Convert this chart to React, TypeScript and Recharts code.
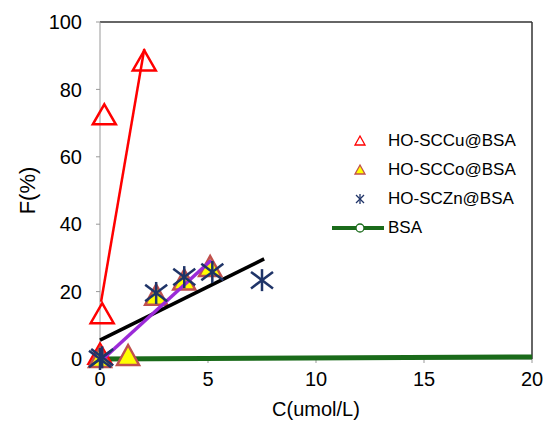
import { ReferenceLine, Scatter, ScatterChart, XAxis, YAxis } from "recharts";

// measured points
const cuX = [0, 0.1, 0.2, 2.05];
const cuY = [1, 13, 72, 88];
const coX = [0, 1.3, 2.6, 3.9, 5.1];
const coY = [0, 0.6, 18.5, 23, 27];
const znX = [0, 0.1, 2.6, 3.9, 5.2, 7.5];
const znY = [0, 0.5, 19.6, 24.3, 25.8, 23.4];
const bsaX = [0, 0.1];
const bsaY = [0, 0.1];

// fitted / trend lines (end points)
const cuFitX = [0.05, 2.05];
const cuFitY = [17, 92];
const coFitX = [0.14, 5.15];
const coFitY = [0, 29.3];
const znFitX = [0, 7.6];
const znFitY = [5.6, 29.7];
const bsaLineX = [0, 20];
const bsaLineY = [0, 0.6];

const xTicks = [0, 5, 10, 15, 20];
const yTicks = [0, 20, 40, 60, 80, 100];
const legendNames = ["HO-SCCu@BSA", "HO-SCCo@BSA", "HO-SCZn@BSA", "BSA"];

const toRows = (xs: number[], ys: number[]) => xs.map((x, i) => ({ x, y: ys[i] }));

const RED = "#ff0000";
const YELLOW = "#ffff00";
const BROWN = "#c0504d";
const NAVY = "#1f3468";
const PURPLE = "#9b2ad8";
const GREEN = "#1a6b1a";

const triPath = (cx: number, cy: number, w: number, h: number) =>
    `M${cx},${cy - h * 0.6} L${cx + w / 2},${cy + h * 0.4} L${cx - w / 2},${cy + h * 0.4} Z`;

const RedTri = (p: any) => (
    <path d={triPath(p.cx, p.cy, 23, 20)} fill="none" stroke={RED} strokeWidth={2.5} />
);
const YellowTri = (p: any) => (
    <path d={triPath(p.cx, p.cy, 22, 20)} fill={YELLOW} stroke={BROWN} strokeWidth={2.5} />
);
const Star = (p: any) => {
    const r = 11;
    return (
        <g stroke={NAVY} strokeWidth={2.5}>
            <line x1={p.cx - r} y1={p.cy - r * 0.75} x2={p.cx + r} y2={p.cy + r * 0.75} />
            <line x1={p.cx - r} y1={p.cy + r * 0.75} x2={p.cx + r} y2={p.cy - r * 0.75} />
            <line x1={p.cx} y1={p.cy - r} x2={p.cx} y2={p.cy + r} />
        </g>
    );
};
const GreenDot = (p: any) => (
    <circle cx={p.cx} cy={p.cy} r={5} fill="none" stroke={GREEN} strokeWidth={1.5} />
);
const Nothing = () => <g />;

function LegendBox() {
    const icons = [
        <path d="M10,3 L15,12 L5,12 Z" fill="none" stroke={RED} strokeWidth={1.3} />,
        <path d="M10,3 L15,12 L5,12 Z" fill={YELLOW} stroke={BROWN} strokeWidth={1.3} />,
        <g stroke={NAVY} strokeWidth={1.3}>
            <line x1={6} y1={4} x2={14} y2={12} />
            <line x1={6} y1={12} x2={14} y2={4} />
            <line x1={10} y1={3} x2={10} y2={13} />
        </g>,
        <g>
            <line x1={-18} y1={8} x2={34} y2={8} stroke={GREEN} strokeWidth={4} />
            <circle cx={10} cy={8} r={4} fill="#fff" stroke={GREEN} strokeWidth={1.3} />
        </g>,
    ];
    return (
        <div
            style={{
                position: "absolute",
                left: 350,
                top: 126,
                width: 190,
                fontFamily: "'Liberation Sans', Arial, sans-serif",
                fontSize: 17,
                color: "#000",
            }}
        >
            {legendNames.map((name, i) => (
                <div key={name} style={{ display: "flex", alignItems: "center", height: 29 }}>
                    <svg width={20} height={16} style={{ overflow: "visible", marginRight: 18 }}>
                        {icons[i]}
                    </svg>
                    <span>{name}</span>
                </div>
            ))}
        </div>
    );
}

export default function App() {
    const tickFont = { fontFamily: "'Liberation Sans', Arial, sans-serif", fontSize: 20, fill: "#000" };
    return (
        <div style={{ position: "absolute", left: 0, top: 0, width: 547, height: 431, background: "#fff" }}>
            <ScatterChart
                width={547}
                height={431}
                margin={{ top: 22, right: 15, left: 40, bottom: 42 }}
                style={{ overflow: "visible" }}
            >
                <XAxis
                    type="number"
                    dataKey="x"
                    domain={[0, 20]}
                    ticks={xTicks}
                    height={30}
                    stroke="#999"
                    tickSize={4}
                    tickMargin={9}
                    tick={tickFont}
                    label={{
                        value: "C(umol/L)",
                        position: "bottom",
                        offset: 13,
                        style: { ...tickFont, textAnchor: "middle" },
                    }}
                />
                <YAxis
                    type="number"
                    dataKey="y"
                    domain={[0, 100]}
                    ticks={yTicks}
                    width={60}
                    stroke="#999"
                    tickSize={4}
                    tickMargin={14}
                    tick={tickFont}
                    label={{
                        value: "F(%)",
                        angle: -90,
                        position: "insideLeft",
                        offset: -13,
                        style: { ...tickFont, fontSize: 22, textAnchor: "middle" },
                    }}
                />
                <ReferenceLine y={100} stroke="#333" strokeWidth={1.5} />
                <ReferenceLine x={20} stroke="#333" strokeWidth={1.5} />
                <Scatter
                    data={toRows(bsaLineX, bsaLineY)}
                    shape={<Nothing />}
                    line={{ stroke: GREEN, strokeWidth: 5 }}
                    isAnimationActive={false}
                />
                <Scatter data={toRows(bsaX, bsaY)} shape={<GreenDot />} isAnimationActive={false} />
                <Scatter data={toRows(cuX, cuY)} shape={<RedTri />} isAnimationActive={false} />
                <Scatter data={toRows(coX, coY)} shape={<YellowTri />} isAnimationActive={false} />
                <Scatter
                    data={toRows(znFitX, znFitY)}
                    shape={<Nothing />}
                    line={{ stroke: "#000", strokeWidth: 3.5 }}
                    isAnimationActive={false}
                />
                <Scatter
                    data={toRows(coFitX, coFitY)}
                    shape={<Nothing />}
                    line={{ stroke: PURPLE, strokeWidth: 3.5 }}
                    isAnimationActive={false}
                />
                <Scatter data={toRows(znX, znY)} shape={<Star />} isAnimationActive={false} />
                <Scatter
                    data={toRows(cuFitX, cuFitY)}
                    shape={<Nothing />}
                    line={{ stroke: RED, strokeWidth: 2.5 }}
                    isAnimationActive={false}
                />
            </ScatterChart>
            <LegendBox />
        </div>
    );
}
